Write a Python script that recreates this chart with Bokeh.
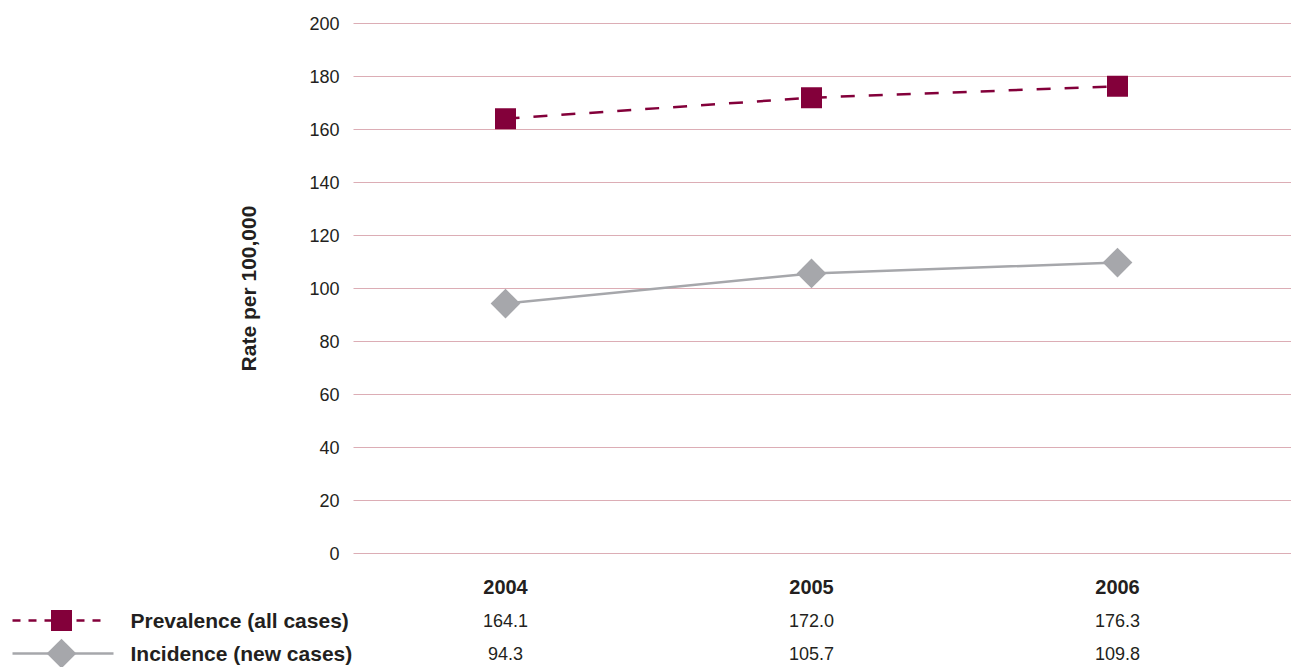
import math
from bokeh.plotting import figure
from bokeh.models import Range1d, FixedTicker, ColumnDataSource
from bokeh.core.properties import value
from bokeh.embed import file_html
from bokeh.resources import INLINE

years = ["2004", "2005", "2006"]
prevalence = [164.1, 172.0, 176.3]
incidence = [94.3, 105.7, 109.8]
series_names = ["Prevalence (all cases)", "Incidence (new cases)"]
y_ticks = [0, 20, 40, 60, 80, 100, 120, 140, 160, 180, 200]

FONT = "Liberation Sans"
PREV_C = "#83003a"
INC_C = "#a6a7ab"
GRID_C = "#dcadb5"
TXT_C = "#231f20"

xs = list(range(len(years)))

# layout helpers (pixel geometry of the page)
W, H = 1291, 667
X0PX, DXPX = 505.0, 306.0          # x pixel of first category, pixels per category
def xd(px):                         # page pixel -> x data coordinate
    return (px - X0PX) / DXPX
PX = 2.65                           # pixels per y unit
ZERO_PX = 553.0
def yd(py):                         # page pixel -> y data coordinate
    return (ZERO_PX - py) / PX

PLOT_LEFT = xd(353)
ROW_HDR, ROW_PREV, ROW_INC = yd(586), yd(620), yd(653)

p = figure(width=W, height=H, output_backend="svg", toolbar_location=None,
           x_range=Range1d(xd(0), xd(W)), y_range=Range1d(yd(H), yd(15)),
           min_border_left=0, min_border_right=0, min_border_top=15, min_border_bottom=0)
p.outline_line_color = None
p.xaxis.visible = False
p.xgrid.visible = False

ax = p.yaxis[0]
ax.fixed_location = PLOT_LEFT
ax.ticker = FixedTicker(ticks=y_ticks)
ax.axis_line_color = None
ax.major_tick_line_color = None
ax.major_tick_out = 0
ax.major_tick_in = 0
ax.minor_tick_line_color = None
ax.major_label_text_font = FONT
ax.major_label_text_font_size = "18px"
ax.major_label_text_color = TXT_C
ax.major_label_standoff = 14

grid = p.ygrid[0]
grid.ticker = FixedTicker(ticks=y_ticks)
grid.grid_line_color = GRID_C
grid.grid_line_width = 1
try:
    grid.cross_bounds = (PLOT_LEFT, xd(W))
except Exception:
    grid.visible = False
    p.segment(x0=[PLOT_LEFT] * len(y_ticks), x1=[xd(W)] * len(y_ticks), y0=y_ticks, y1=y_ticks,
              line_color=GRID_C, line_width=1)

# y axis title
p.text(x=[xd(248)], y=[yd(288)], text=["Rate per 100,000"], angle=math.pi / 2,
       text_font=value(FONT), text_font_style="bold", text_font_size="21px",
       text_color=TXT_C, text_align="center", text_baseline="middle")

src = ColumnDataSource(dict(x=xs, prev=prevalence, inc=incidence))
p.line("x", "prev", source=src, line_color=PREV_C, line_width=2.5, line_dash="14 14")
p.scatter("x", "prev", source=src, marker="square", size=21, fill_color=PREV_C, line_color=None)
p.line("x", "inc", source=src, line_color=INC_C, line_width=2.5)
p.scatter("x", "inc", source=src, marker="square", angle=math.pi / 4, size=21,
          fill_color=INC_C, line_color=None)

# data table
p.text(x=xs, y=[ROW_HDR] * len(years), text=years, text_font=value(FONT), text_font_style="bold",
       text_font_size="20px", text_color=TXT_C, text_align="center", text_baseline="middle")
p.text(x=xs, y=[ROW_PREV] * len(years), text=[f"{v:.1f}" for v in prevalence],
       text_font=value(FONT), text_font_size="18px", text_color=TXT_C,
       text_align="center", text_baseline="middle")
p.text(x=xs, y=[ROW_INC] * len(years), text=[f"{v:.1f}" for v in incidence],
       text_font=value(FONT), text_font_size="18px", text_color=TXT_C,
       text_align="center", text_baseline="middle")
p.text(x=[xd(130)] * 2, y=[ROW_PREV, ROW_INC], text=series_names, text_font=value(FONT),
       text_font_style="bold", text_font_size="21px", text_color=TXT_C,
       text_align="left", text_baseline="middle")

# legend keys
p.line(x=[xd(12), xd(108)], y=[ROW_PREV] * 2, line_color=PREV_C, line_width=2.5, line_dash="8 8")
p.scatter(x=[xd(61)], y=[ROW_PREV], marker="square", size=21, fill_color=PREV_C, line_color=None)
p.line(x=[xd(12), xd(113)], y=[ROW_INC] * 2, line_color=INC_C, line_width=2.5)
p.scatter(x=[xd(61)], y=[ROW_INC], marker="square", angle=math.pi / 4, size=21,
          fill_color=INC_C, line_color=None)

open("out.html", "w").write(file_html(p, INLINE))
